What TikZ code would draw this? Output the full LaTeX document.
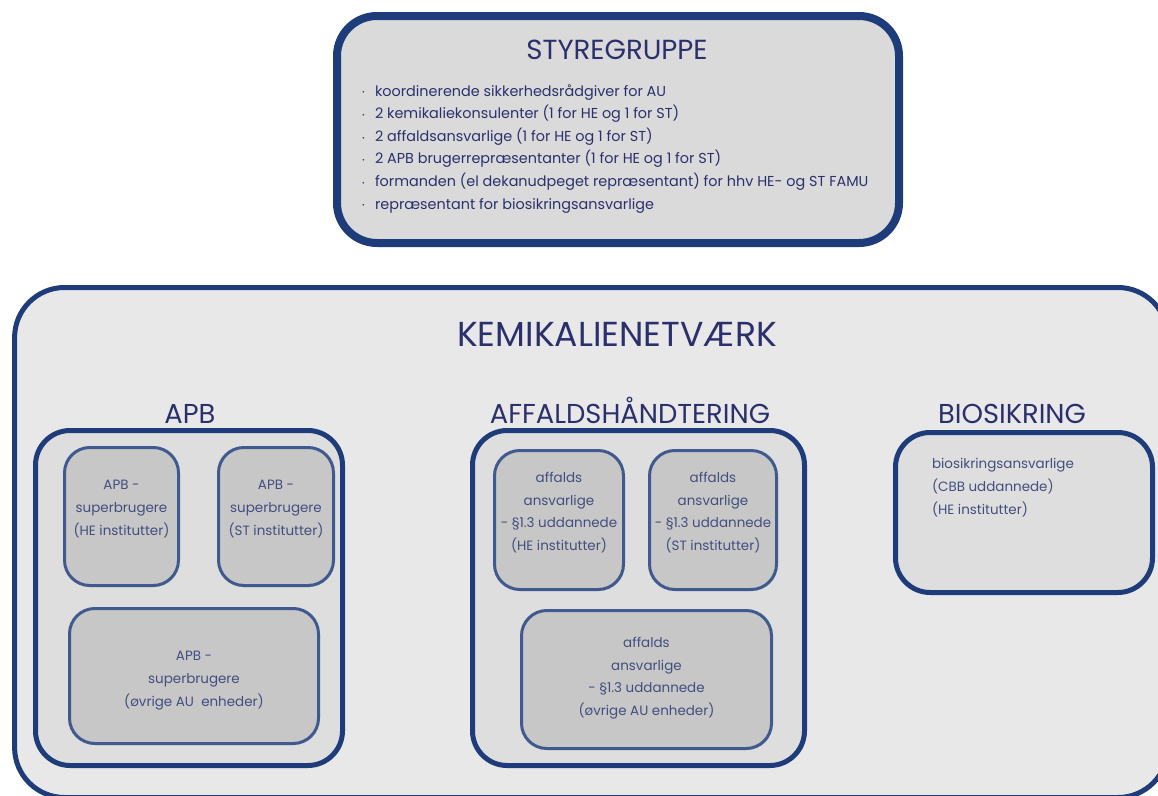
\documentclass[tikz,border=0pt]{standalone}
\usepackage{fontspec}
\setmainfont{Poppins}
\usetikzlibrary{positioning,shadows}

\definecolor{navy}{HTML}{1E3C7A}
\definecolor{ink}{HTML}{2B306C}
\definecolor{softink}{HTML}{434E7E}
\definecolor{netfill}{HTML}{E8E8E8}
\definecolor{groupfill}{HTML}{DEDEDE}
\definecolor{cellfill}{HTML}{C7C7C7}
\definecolor{topfill}{HTML}{DADADA}

\newcommand{\dotitem}{\makebox[9.75pt][l]{\raisebox{.15ex}{\tiny\textbullet}}}

\begin{document}
\begin{tikzpicture}[x=0.75pt,y=-0.75pt,
    every node/.style={inner sep=0pt,outer sep=0pt},
    softshadow/.style={drop shadow={shadow xshift=0.6pt,shadow yshift=-1.2pt,opacity=0.18}},
    topbox/.style={draw=navy,line width=6pt,fill=topfill,rounded corners=30pt,softshadow},
    netbox/.style={draw=navy,line width=3.75pt,fill=netfill,rounded corners=37.5pt},
    groupbox/.style={draw=navy,line width=3.75pt,fill=groupfill,rounded corners=26pt,softshadow},
    cellbox/.style={draw=navy!85!white,line width=2.25pt,fill=cellfill,rounded corners=19pt,softshadow},
    bigtitle/.style={text=ink,anchor=base,font=\fontsize{26}{30}\selectfont},
    toptitle/.style={text=ink,anchor=base,font=\fontsize{20.7}{24}\selectfont},
    secttitle/.style={text=ink,anchor=base,font=\fontsize{20.5}{24}\selectfont},
    celltext/.style={text=softink,anchor=base,align=center,font=\fontsize{10.1}{16.9}\selectfont},
    listtext/.style={text=ink,anchor=base west,align=left,font=\fontsize{10.8}{16.95}\selectfont}]
  \useasboundingbox[fill=white] (0,0) rectangle (1158,796);
  \clip (0,0) rectangle (1158,796);

  % styregruppe (text nodes sit on the baseline of their last line)
  \node[topbox,minimum width=421.5pt,minimum height=170.25pt] (styre) at (618,129.5) {};
  \node[toptitle] (styretitle) at (617,59) {STYREGRUPPE};
  \node[listtext] (styrelist) at (362,209) {%
    \dotitem koordinerende sikkerhedsrådgiver for AU\\
    \dotitem 2 kemikaliekonsulenter (1 for HE og 1 for ST)\\
    \dotitem 2 affaldsansvarlige (1 for HE og 1 for ST)\\
    \dotitem 2 APB brugerrepræsentanter (1 for HE og 1 for ST)\\
    \dotitem formanden (el dekanudpeget repræsentant) for hhv HE- og ST FAMU\\
    \dotitem repræsentant for biosikringsansvarlige};

  % kemikalienetvaerk
  \node[netbox,minimum width=865pt,minimum height=382.5pt] (net) at (591.25,542.5) {};
  \node[bigtitle] (nettitle) at (617,346) {KEMIKALIENETVÆRK};

  % APB
  \node[secttitle] (apbtitle) at (190,423) {APB};
  \node[groupbox,minimum width=230.25pt,minimum height=251.25pt] (apb) at (189,598) {};
  \node[cellbox,minimum width=85.5pt,minimum height=103.5pt] (apbhe) at (121.5,516.5) {};
  \node[cellbox,minimum width=86.25pt,minimum height=103.5pt] (apbst) at (276,516.5) {};
  \node[cellbox,minimum width=186.75pt,minimum height=101.25pt] (apbau) at (194,676) {};
  \node[celltext] (apbhetext) at (121.5,535) {APB -\\superbrugere\\(HE institutter)};
  \node[celltext] (apbsttext) at (276,535) {APB -\\superbrugere\\(ST institutter)};
  \node[celltext] (apbautext) at (194,706) {APB -\\superbrugere\\(øvrige AU\ \ enheder)};

  % affaldshaandtering
  \node[secttitle] (afftitle) at (630,423) {AFFALDSHÅNDTERING};
  \node[groupbox,minimum width=249pt,minimum height=251.25pt] (aff) at (638.5,598) {};
  \node[cellbox,minimum width=96.75pt,minimum height=104.25pt] (affhe) at (559,520) {};
  \node[cellbox,minimum width=95.25pt,minimum height=104.25pt] (affst) at (713,520) {};
  \node[cellbox,minimum width=187.5pt,minimum height=103.5pt] (affau) at (646.5,679.5) {};
  \node[celltext] (affhetext) at (559,550.5) {affalds\\ansvarlige\\- §1.3 uddannede\\(HE institutter)};
  \node[celltext] (affsttext) at (713,550.5) {affalds\\ansvarlige\\- §1.3 uddannede\\(ST institutter)};
  \node[celltext] (affautext) at (646.5,715.5) {affalds\\ansvarlige\\- §1.3 uddannede\\(øvrige AU enheder)};

  % biosikring
  \node[secttitle] (biotitle) at (1012,423) {BIOSIKRING};
  \node[groupbox,minimum width=192.75pt,minimum height=120pt] (bio) at (1024,512.5) {};
  \node[celltext,anchor=base west,align=left] (biotext) at (932,514) {biosikringsansvarlige\\(CBB uddannede)\\(HE institutter)};
\end{tikzpicture}
\end{document}
